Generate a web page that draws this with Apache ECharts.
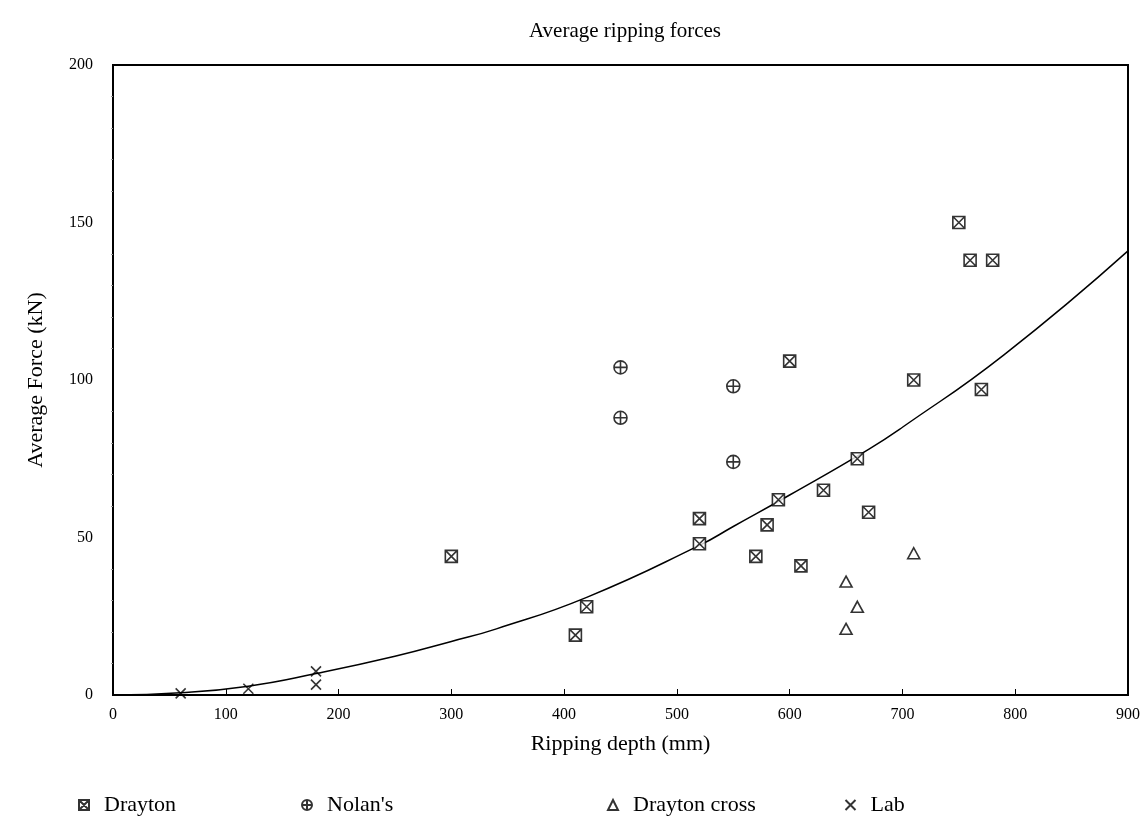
<!DOCTYPE html>
<html>
<head>
<meta charset="utf-8">
<script src="https://cdn.jsdelivr.net/npm/echarts@6/dist/echarts.min.js"></script>
<style>
  html, body { margin: 0; padding: 0; background: #fff; }
  #chart { width: 1148px; height: 833px; }
</style>
</head>
<body>
<div id="chart"></div>
<script>
// values: [depth mm, force kN]
const drayton = [
    [300, 44], [410, 19], [420, 28], [520, 48], [520, 56], [570, 44],
    [580, 54], [590, 62], [600, 106], [610, 41], [630, 65], [660, 75],
    [670, 58], [710, 100], [750, 150], [760, 138], [770, 97], [780, 138]
];
const nolans = [[450, 104], [450, 88], [550, 98], [550, 74]];
const draytonCross = [[650, 36], [660, 28], [650, 21], [710, 45]];
const lab = [[60, 0.5], [120, 2], [180, 7.5], [180, 3.3]];
// fitted curve
const fitCurve = [
    [0, 0], [60, 0.7], [120, 2.8], [180, 6.8], [250, 12.3], [300, 17],
    [340, 21], [420, 31], [520, 47.5], [550, 53.5], [600, 63.5],
    [670, 78], [700, 85], [790, 108], [900, 141]
];
const xTicks = { min: 0, max: 900, interval: 100 };
const yTicks = { min: 0, max: 200, interval: 50 };

const serif = '"Liberation Serif", "DejaVu Serif", serif';
const boxX = 'path://M0,0 L10,0 L10,10 L0,10 Z M0,0 L10,10 M10,0 L0,10';
const circlePlus = 'path://M5,0 A5,5 0 1,1 5,10 A5,5 0 1,1 5,0 Z M0,5 L10,5 M5,0 L5,10';
const cross = 'path://M0,0 L10,10 M10,0 L0,10';

let chart = echarts.init(document.getElementById('chart'));

function markStyle() {
    return { color: '#fff', borderColor: '#000', borderWidth: 1.6 };
}

function legendAt(name, left) {
    return {
        data: [name],
        left: left,
        top: 789,
        itemWidth: 10,
        itemHeight: 10,
        textStyle: { fontFamily: serif, fontSize: 22, color: '#000', padding: [0, 0, 0, 10] }
    };
}

let option = {
    backgroundColor: '#fff',
    animation: false,
    title: {
        text: 'Average ripping forces',
        left: 620,
        textAlign: 'center',
        top: 16,
        textStyle: { fontFamily: serif, fontSize: 21, fontWeight: 'normal', color: '#000' }
    },
    legend: [
        legendAt('Drayton', 73),
        legendAt("Nolan's", 296),
        legendAt('Drayton cross', 602),
        legendAt('Lab', 838)
    ],
    grid: {
        left: 113,
        right: 20,
        top: 65,
        bottom: 138,
        show: true,
        borderColor: '#000',
        borderWidth: 2
    },
    xAxis: {
        type: 'value',
        min: xTicks.min,
        max: xTicks.max,
        interval: xTicks.interval,
        name: 'Ripping depth (mm)',
        nameLocation: 'middle',
        nameGap: 38,
        nameTextStyle: { fontFamily: serif, fontSize: 22, color: '#000' },
        axisLine: { show: true, lineStyle: { color: '#000', width: 2 } },
        axisTick: { show: true, inside: true, length: 6, lineStyle: { color: '#000' } },
        axisLabel: { fontFamily: serif, fontSize: 16, color: '#000', margin: 12 },
        splitLine: { show: false }
    },
    yAxis: {
        type: 'value',
        min: yTicks.min,
        max: yTicks.max,
        interval: yTicks.interval,
        name: 'Average Force (kN)',
        nameLocation: 'middle',
        nameGap: 66,
        nameTextStyle: { fontFamily: serif, fontSize: 22, color: '#000' },
        axisLine: { show: true, lineStyle: { color: '#000', width: 2 } },
        axisTick: { show: false },
        minorTick: { show: true, splitNumber: 5, length: 2, lineStyle: { color: '#999' } },
        axisLabel: { fontFamily: serif, fontSize: 16, color: '#000', margin: 20 },
        splitLine: { show: false }
    },
    series: [
        {
            name: 'fit',
            type: 'line',
            data: fitCurve,
            smooth: true,
            showSymbol: false,
            lineStyle: { color: '#000', width: 1.5 },
            z: 1
        },
        {
            name: 'Drayton',
            type: 'scatter',
            data: drayton,
            symbol: boxX,
            symbolSize: 12,
            itemStyle: markStyle(),
            z: 3
        },
        {
            name: "Nolan's",
            type: 'scatter',
            data: nolans,
            symbol: circlePlus,
            symbolSize: 13,
            itemStyle: markStyle(),
            z: 3
        },
        {
            name: 'Drayton cross',
            type: 'scatter',
            data: draytonCross,
            symbol: 'triangle',
            symbolSize: [12, 11],
            itemStyle: markStyle(),
            z: 3
        },
        {
            name: 'Lab',
            type: 'scatter',
            data: lab,
            symbol: cross,
            symbolSize: 10,
            itemStyle: { color: 'none', borderColor: '#000', borderWidth: 1.6 },
            z: 3
        }
    ]
};

chart.setOption(option);
</script>
</body>
</html>
